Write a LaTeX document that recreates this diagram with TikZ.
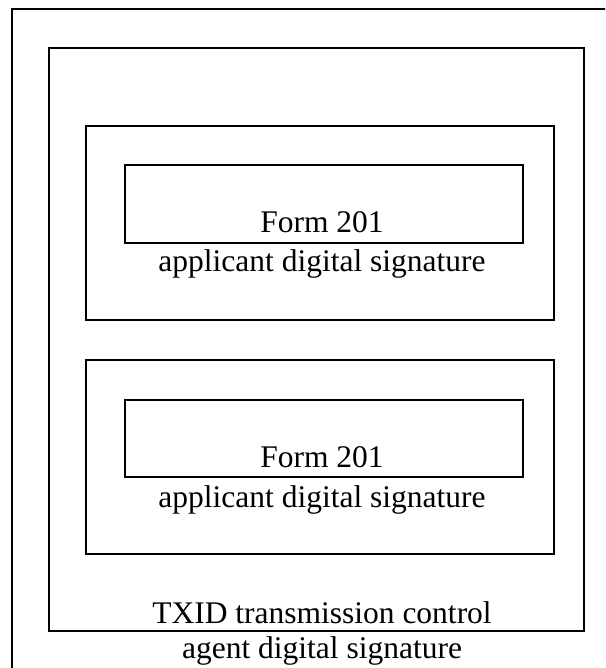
\documentclass[tikz,border=0pt]{standalone}
\usepackage{fontspec}
\setmainfont{Liberation Serif}
\begin{document}
\begin{tikzpicture}[x=1pt,y=-1pt,
  box/.style={draw=black,line width=2pt,inner sep=0pt,anchor=north west},
  lbl/.style={inner sep=0pt,anchor=base,font=\fontsize{31.5}{34}\selectfont}]
\useasboundingbox (0,0) rectangle (605,668);
\clip (0,0) rectangle (605,668);
% outer frame (extends beyond the picture at right and bottom)
\node[box,minimum width=620pt,minimum height=690pt] (outer) at (11,8) {};
\node[box,minimum width=535pt,minimum height=583pt] (middle) at (48,47) {};
\node[box,minimum width=468pt,minimum height=194pt] (boxA) at (85,125) {};
\node[box,minimum width=398pt,minimum height=78pt] (formA) at (124,164) {};
\node[box,minimum width=468pt,minimum height=194pt] (boxB) at (85,359) {};
\node[box,minimum width=398pt,minimum height=77pt] (formB) at (124,399) {};
\node[lbl] (tA) at (322,232) {Form 201};
\node[lbl] (sA) at (322,271) {applicant digital signature};
\node[lbl] (tB) at (322,467) {Form 201};
\node[lbl] (sB) at (322,507) {applicant digital signature};
\node[lbl] (tx) at (322,623) {TXID transmission control};
\node[lbl] (ag) at (322,658) {agent digital signature};
\end{tikzpicture}
\end{document}
